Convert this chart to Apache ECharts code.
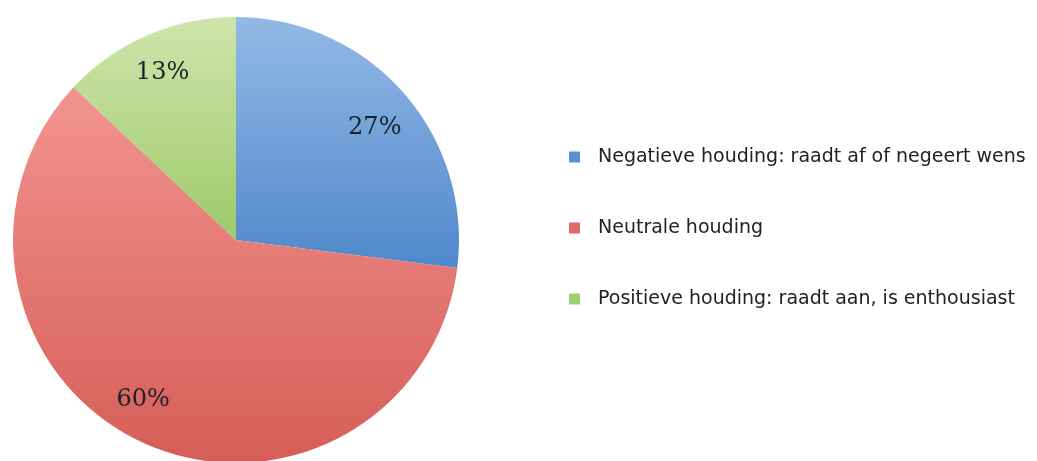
<!DOCTYPE html>
<html><head><meta charset="utf-8">
<script src="https://cdn.jsdelivr.net/npm/echarts@6/dist/echarts.min.js"></script>
<style>html,body{margin:0;padding:0;background:#fff}#c{width:1037px;height:461px}</style>
</head><body><div id="c"></div>
<script>
const categories = ['Negatieve houding: raadt af of negeert wens', 'Neutrale houding', 'Positieve houding: raadt aan, is enthousiast'];
const values = [27, 60, 13];
const topColors = ['#93b9e5', '#f29490', '#cee5ab'];
const bottomColors = ['#4f88cc', '#d65d57', '#9dca69'];
const legendColors = ['#5b90d2', '#e06a66', '#9fcd6f'];
const labelOffsets = [[0, 10], [-14, -8], [0, 3]];

const chart = echarts.init(document.getElementById('c'));
const C = [236, 240];
const R = 223;
const pieData = categories.map((n, i) => ({
  name: n, value: values[i],
  itemStyle: { color: new echarts.graphic.LinearGradient(0, 0, 0, 1, [{offset: 0, color: topColors[i]}, {offset: 1, color: bottomColors[i]}]) }
}));
const labelData = categories.map((n, i) => ({ name: n, value: values[i], label: { offset: labelOffsets[i] } }));
chart.setOption({
  animation: false,
  legend: {
    orient: 'vertical', left: 564, top: 141,
    itemWidth: 11, itemHeight: 11, itemGap: 49, icon: 'rect',
    textStyle: { fontFamily: 'DejaVu Sans', fontSize: 19, color: '#222', lineHeight: 22, padding: [0, 0, 0, 13] },
    data: categories.map((n, i) => ({ name: n, itemStyle: { color: legendColors[i] } }))
  },
  series: [{
    type: 'pie', center: C, radius: [0, R], startAngle: 90, clockwise: true,
    label: { show: false }, labelLine: { show: false }, silent: true,
    emphasis: { disabled: true },
    data: pieData
  }, {
    type: 'pie', center: C, radius: [150, 214], startAngle: 90, clockwise: true,
    itemStyle: { color: 'rgba(0,0,0,0)' }, silent: true, legendHoverLink: false,
    emphasis: { disabled: true },
    label: { show: true, position: 'inside', formatter: '{c}%', fontFamily: 'DejaVu Serif', fontSize: 24, color: '#1a222b' },
    labelLine: { show: false },
    data: labelData
  }]
});
</script></body></html>
